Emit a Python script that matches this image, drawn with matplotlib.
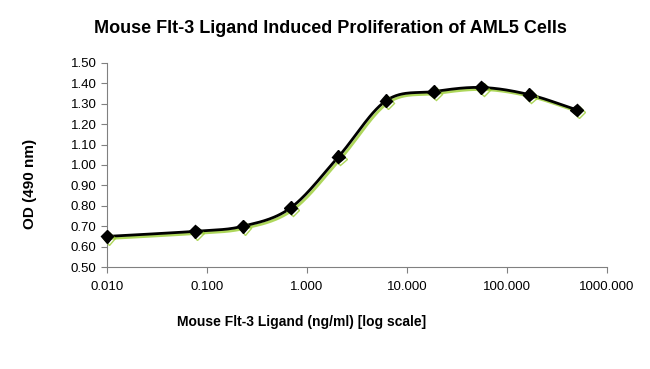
import matplotlib
matplotlib.use("Agg")
import matplotlib.pyplot as plt
import matplotlib.patheffects as pe
import numpy as np
from matplotlib.ticker import FixedLocator, FuncFormatter

concentration = [0.01, 0.0762, 0.229, 0.686, 2.06, 6.17, 18.5, 55.6, 166.7, 500.0]
od_490 = [0.65, 0.675, 0.70, 0.79, 1.04, 1.315, 1.36, 1.38, 1.345, 1.27]

x_ticks = [0.01, 0.1, 1, 10, 100, 1000]
y_ticks = [0.50, 0.60, 0.70, 0.80, 0.90, 1.00, 1.10, 1.20, 1.30, 1.40, 1.50]

plt.rcParams['font.family'] = ['Liberation Sans', 'DejaVu Sans']


def smooth_curve(xs, ys, steps=30):
    # catmull-rom in log-x space, similar to excel's smoothed line
    lx = np.log10(xs)
    ys = np.asarray(ys, dtype=float)
    px = np.concatenate([[2 * lx[0] - lx[1]], lx, [2 * lx[-1] - lx[-2]]])
    py = np.concatenate([[2 * ys[0] - ys[1]], ys, [2 * ys[-1] - ys[-2]]])
    out_x, out_y = [], []
    t = np.linspace(0, 1, steps)
    for i in range(1, len(px) - 2):
        for arr, out in ((px, out_x), (py, out_y)):
            p0, p1, p2, p3 = arr[i - 1], arr[i], arr[i + 1], arr[i + 2]
            seg = 0.5 * ((2 * p1) + (-p0 + p2) * t
                         + (2 * p0 - 5 * p1 + 4 * p2 - p3) * t ** 2
                         + (-p0 + 3 * p1 - 3 * p2 + p3) * t ** 3)
            out.extend(seg)
    return 10 ** np.array(out_x), np.array(out_y)


fig = plt.figure(figsize=(6.5, 3.69), dpi=100)
ax = fig.add_axes([0.1646, 0.2764, 0.7692, 0.5529])

shadow = [pe.SimpleLineShadow(offset=(1.5, -1.5), shadow_color='#9acd32', alpha=0.8), pe.Normal()]
cx, cy = smooth_curve(concentration, od_490)
ax.plot(cx, cy, color='black', lw=2, path_effects=shadow, zorder=2)
ax.plot(concentration, od_490, linestyle='none', marker='D', markersize=6.5,
        color='black', path_effects=shadow, zorder=3, clip_on=False)

ax.set_xscale('log')
ax.set_xlim(0.01, 1000)
ax.set_ylim(0.5, 1.5)
ax.xaxis.set_major_locator(FixedLocator(x_ticks))
ax.xaxis.set_minor_locator(FixedLocator([]))
ax.xaxis.set_major_formatter(FuncFormatter(lambda v, p: f"{v:.3f}"))
ax.set_yticks(y_ticks)
ax.yaxis.set_major_formatter(FuncFormatter(lambda v, p: f"{v:.2f}"))

for side in ('top', 'right'):
    ax.spines[side].set_visible(False)
for side in ('left', 'bottom'):
    ax.spines[side].set_color('#808080')
    ax.spines[side].set_linewidth(0.8)
ax.tick_params(axis='both', colors='#808080', labelcolor='black', labelsize=9.5, length=4, width=0.8)
ax.tick_params(axis='x', pad=6)

ax.set_xlabel('Mouse Flt-3 Ligand (ng/ml) [log scale]', fontsize=10, fontweight='bold', va='center')
ax.xaxis.set_label_coords(0.39, -0.27)
ax.set_ylabel('OD (490 nm)', fontsize=11, fontweight='bold', va='center')
ax.yaxis.set_label_coords(-0.154, 0.407)
fig.text(0.508, 0.924, 'Mouse Flt-3 Ligand Induced Proliferation of AML5 Cells',
         ha='center', va='center', fontsize=13, fontweight='bold')

fig.savefig('out.png', dpi=100)
